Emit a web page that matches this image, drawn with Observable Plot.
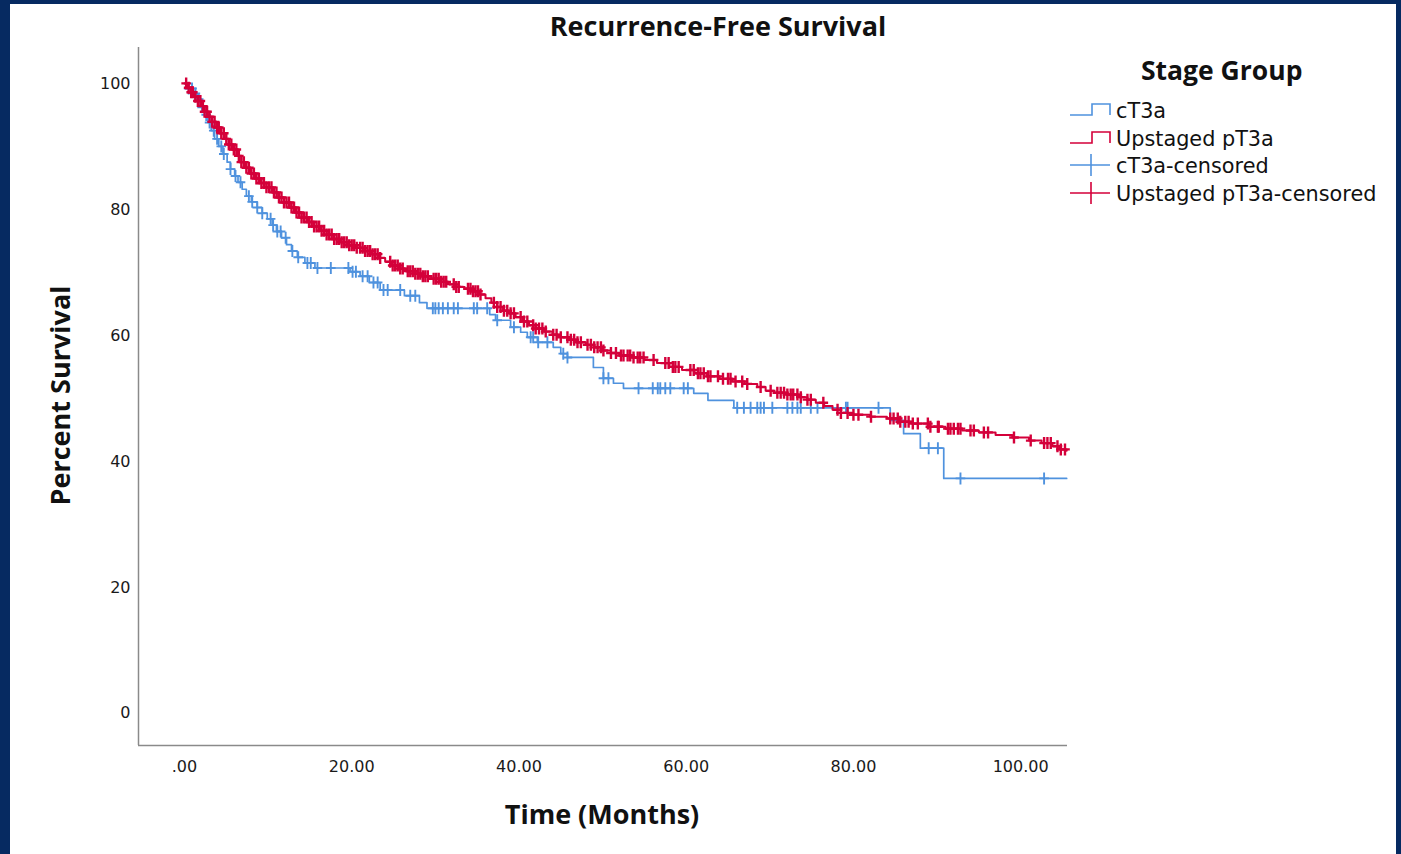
<!DOCTYPE html>
<html>
<head>
<meta charset="utf-8">
<script src="https://cdn.jsdelivr.net/npm/d3@7"></script>
<script src="https://cdn.jsdelivr.net/npm/@observablehq/plot@0.6"></script>
<style>
  html, body { margin:0; padding:0; width:1401px; height:854px; overflow:hidden; background:#062a61; }
  #panel { position:absolute; left:10px; top:4px; width:1386px; height:850px; background:#ffffff; }
  .t { position:absolute; font-family:"Open Sans", "DejaVu Sans", sans-serif; color:#111; white-space:nowrap; line-height:1; }
  #title { left:468px; width:500px; top:12px; text-align:center; font-weight:700; font-size:27px; }
  #xlabel { left:402px; width:400px; top:800px; text-align:center; font-weight:700; font-size:27px; }
  #ylabel { left:-141px; width:400px; top:382px; text-align:center; font-weight:700; font-size:27px; transform:rotate(-90deg); }
  #legtitle { left:1141px; top:57px; font-weight:700; font-size:26.5px; }
  .leg { left:1116px; font-size:20.8px; font-family:"DejaVu Sans", sans-serif; }
  #chart { position:absolute; left:0; top:0; }
</style>
</head>
<body>
<div id="panel"></div>
<div id="chart"></div>
<div class="t" id="title">Recurrence-Free Survival</div>
<div class="t" id="xlabel">Time (Months)</div>
<div class="t" id="ylabel">Percent Survival</div>
<div class="t" id="legtitle">Stage Group</div>
<div id="legend"></div>
<script>
// ---------------- data ----------------
const seriesNames = ["cT3a", "Upstaged pT3a"];
const legendLabels = ["cT3a", "Upstaged pT3a", "cT3a-censored", "Upstaged pT3a-censored"];
const xTicks = [0, 20, 40, 60, 80, 100];
const xTickLabels = [".00", "20.00", "40.00", "60.00", "80.00", "100.00"];
const yTicks = [0, 20, 40, 60, 80, 100];

// cT3a Kaplan-Meier steps: [time (months), percent surviving]
const cT3aCurve = [
  [0,100],[0.5,99.2],[1.0,98.4],[1.5,97.5],[2.0,96.2],[2.4,95],[2.8,93.8],[3.2,92.5],[3.6,91.2],[4.1,90],
  [4.6,88.8],[5.1,87.5],[5.5,86.4],[6.0,85.3],[6.4,84.3],[6.9,83.2],[7.4,82.1],[8.0,81.2],[8.7,80.3],[9.3,79.4],
  [9.9,78.5],[10.5,77.5],[11.0,76.5],[11.6,75.5],[12.2,74.4],[12.8,73.4],[13.5,72.4],[14.4,71.5],[15.6,70.7],
  [19.8,70.1],[21.0,69.4],[22.1,68.4],[23.4,67.2],[26.3,66.3],[28.1,65.2],[29.0,64.3],[36.5,63.3],[37.2,62.4],
  [39.0,61.3],[40.2,60.5],[41.0,59.7],[42.2,58.9],[44.1,58.1],[45.0,57.1],[45.8,56.5],[48.9,54.9],[50.1,53.2],
  [51.3,52.4],[52.5,51.6],[60.9,50.8],[62.6,49.7],[65.7,48.5],[84.4,46.5],[86.0,44.4],[88.0,42.1],[90.8,37.3],
  [105.5,37.3]
];
// Upstaged pT3a Kaplan-Meier steps
const pT3aCurve = [
  [0,100],[0.4,99.3],[0.8,98.6],[1.2,97.9],[1.6,97.2],[2.0,96.4],[2.4,95.5],[2.8,94.7],[3.3,93.9],[3.8,93],
  [4.3,92.1],[4.8,91.2],[5.3,90.3],[5.8,89.5],[6.3,88.5],[6.8,87.5],[7.3,86.6],[7.9,85.7],[8.5,84.9],[9.1,84.2],
  [9.8,83.5],[10.5,82.7],[11.2,81.9],[11.9,81.1],[12.6,80.3],[13.3,79.5],[14.0,78.7],[14.7,78.0],[15.4,77.3],
  [16.2,76.6],[17.0,76.0],[17.8,75.3],[18.6,74.8],[19.5,74.3],[20.5,73.9],[21.5,73.4],[22.4,72.9],[23.2,72.3],
  [24.0,71.7],[24.8,71.1],[25.6,70.6],[26.5,70.2],[27.5,69.8],[28.5,69.4],[29.5,69.0],[30.5,68.5],[31.5,68.1],
  [32.5,67.7],[33.5,67.4],[34.5,67.0],[35.3,66.5],[36.0,65.9],[36.7,65.2],[37.4,64.5],[38.1,63.9],[38.8,63.5],
  [39.6,62.9],[40.4,62.2],[41.2,61.6],[42.0,61.1],[43.0,60.6],[44.0,60.1],[45.0,59.7],[46.0,59.3],[47.0,58.9],
  [48.0,58.5],[49.0,58.1],[50.0,57.6],[51.0,57.2],[52.0,56.8],[53.5,56.5],[55.0,56.1],[56.5,55.6],[58.0,55.0],
  [59.5,54.5],[61.0,54.0],[62.5,53.5],[64.0,53.1],[65.5,52.7],[67.0,52.3],[68.5,51.8],[69.5,51.2],[70.5,50.9],
  [72.0,50.6],[73.5,50.2],[74.5,49.8],[75.5,49.3],[76.5,48.8],[77.5,48.2],[78.5,47.7],[80.0,47.4],[82.0,47.1],
  [84.0,46.8],[85.5,46.3],[87.0,46.0],[89.0,45.5],[91.0,45.2],[93.0,44.9],[95.0,44.6],[97.0,44.2],[99.0,43.8],
  [101.0,43.3],[102.5,42.9],[103.8,42.4],[104.6,41.9],[105.5,41.7]
];
// censoring times (months)
const cT3aCensored = [
  0.5,0.9,1.3,1.7,2.1,2.6,3.0,3.5,3.9,4.4,4.7,5.5,6.1,6.7,7.7,8.1,8.7,9.3,10.3,10.6,11.1,11.5,12.1,12.9,13.6,
  14.7,15.1,15.9,17.5,19.6,20.1,20.5,21.3,21.9,22.6,23.1,23.8,24.3,25.8,27.0,27.6,29.7,30.0,30.4,30.9,31.5,32.2,
  32.7,34.6,35.0,36.2,37.4,39.4,41.4,41.7,42.3,43.4,45.3,45.8,50.1,50.7,54.3,56.0,56.6,56.9,57.5,58.1,59.7,60.2,
  66.1,66.9,67.7,68.5,68.9,69.3,70.3,72.1,72.7,73.3,73.7,74.9,75.7,79.1,79.3,83.0,89.0,90.1,92.8,102.8
];
const pT3aCensored = [
  0.2,0.5,0.8,1.0,1.3,1.6,1.9,2.2,2.4,2.7,3.0,3.3,3.6,3.9,4.1,4.4,4.7,5.0,5.3,5.6,5.9,6.2,6.5,6.8,7.1,7.4,7.7,
  8.0,8.3,8.6,8.9,9.2,9.5,9.8,10.1,10.4,10.7,11.0,11.3,11.6,11.9,12.2,12.5,12.8,13.1,13.4,13.7,14.0,14.3,14.6,
  14.9,15.2,15.5,15.8,16.1,16.4,16.7,17.0,17.3,17.6,17.9,18.2,18.5,18.8,19.1,19.4,19.7,20.0,20.3,20.6,
  21.0,21.3,21.6,21.9,22.2,22.5,22.8,23.1,23.4,24.6,24.9,25.2,25.5,25.8,26.1,26.7,27.0,27.3,27.6,27.9,28.2,28.5,
  28.8,29.1,29.8,30.1,30.4,30.7,31.0,31.3,32.2,32.5,32.8,33.9,34.2,34.5,34.8,35.1,35.4,37.0,37.4,37.8,38.2,38.6,
  39.0,39.4,40.2,40.6,41.0,41.7,42.0,42.4,42.8,43.2,44.1,44.5,45.0,45.8,46.2,46.6,47.0,47.4,48.2,48.6,49.0,49.4,
  49.8,50.1,51.0,51.6,52.2,52.5,53.0,53.3,53.7,54.2,54.5,54.9,56.1,57.5,57.9,58.4,58.7,59.1,60.5,60.9,61.4,61.7,
  62.1,62.6,62.9,63.8,64.4,65.0,65.3,65.9,66.7,67.3,68.9,70.1,70.9,71.3,71.7,72.1,72.5,72.8,73.3,73.7,74.5,74.9,
  76.4,78.1,78.5,79.3,80.0,80.6,82.1,84.4,84.8,85.3,85.6,86.2,86.6,87.1,87.7,88.9,89.2,90.1,90.2,91.3,91.6,92.0,
  92.5,92.8,94.0,94.4,95.6,96.1,99.2,101.2,102.8,103.2,103.6,104.4,104.8,105.3
];

// ---------------- chart ----------------
const BLUE = "#4f92de";
const RED = "#d4003a";
const AXIS = "#8a8a8a";
const TICKFONT = '"DejaVu Sans", sans-serif';
const X_MIN = -5.5, X_MAX = 105.6, Y_MIN = -5.1, Y_MAX = 105.7;

const bis = d3.bisector(d => d[0]).right;
const atTime = (curve, t) => curve[Math.max(0, bis(curve, t) - 1)][1];
const censorRows = (curve, times) => times.map(t => ({t, s: atTime(curve, t)}));

const censorSymbol = {
  draw(ctx, size) {
    const r = Math.sqrt(size / Math.PI);
    ctx.moveTo(0, -r); ctx.lineTo(0, r);
    ctx.moveTo(-r * 0.8, 0); ctx.lineTo(r * 0.8, 0);
  }
};

const chart = Plot.plot({
  width: 1080, height: 854,
  marginLeft: 138, marginTop: 47, marginRight: 13, marginBottom: 109,
  x: {domain: [X_MIN, X_MAX]},
  y: {domain: [Y_MIN, Y_MAX]},
  style: {background: "transparent", fontFamily: TICKFONT, fontSize: "16px", color: "#1a1a1a", overflow: "visible"},
  marks: [
    Plot.axisX({ticks: xTicks, tickSize: 0, tickPadding: 15, label: null,
      tickFormat: d => xTickLabels[xTicks.indexOf(d)], fontSize: 16}),
    Plot.axisY({ticks: yTicks, tickSize: 0, tickPadding: 8, label: null, tickFormat: d => String(d), fontSize: 16}),
    Plot.ruleX([X_MIN], {stroke: AXIS, strokeWidth: 1.5}),
    Plot.ruleY([Y_MIN], {stroke: AXIS, strokeWidth: 1.5}),
    Plot.line(cT3aCurve, {x: d => d[0], y: d => d[1], curve: "step-after", stroke: BLUE, strokeWidth: 1.7}),
    Plot.dot(censorRows(cT3aCurve, cT3aCensored), {x: "t", y: "s", symbol: censorSymbol, r: 6, fill: "none", stroke: BLUE, strokeWidth: 1.9}),
    Plot.line(pT3aCurve, {x: d => d[0], y: d => d[1], curve: "step-after", stroke: RED, strokeWidth: 2}),
    Plot.dot(censorRows(pT3aCurve, pT3aCensored), {x: "t", y: "s", symbol: censorSymbol, r: 6, fill: "none", stroke: RED, strokeWidth: 2.4})
  ]
});
document.getElementById("chart").appendChild(chart);

// ---------------- legend ----------------
const legend = document.getElementById("legend");
const colors = [BLUE, RED, BLUE, RED];
const rowY = [110, 138, 165, 193];
const ns = "http://www.w3.org/2000/svg";
const svg = document.createElementNS(ns, "svg");
svg.setAttribute("width", 1401); svg.setAttribute("height", 854);
svg.style.position = "absolute"; svg.style.left = "0px"; svg.style.top = "0px";
legendLabels.forEach((lab, i) => {
  const y = rowY[i];
  const p = document.createElementNS(ns, "path");
  const d = i < 2
    ? `M1070,${y + 5}H1092V${y - 6}H1110V${y + 5}`
    : `M1070,${y}H1110M1091,${y - 11}V${y + 11}`;
  p.setAttribute("d", d);
  p.setAttribute("fill", "none");
  p.setAttribute("stroke", colors[i]);
  p.setAttribute("stroke-width", 1.6);
  svg.appendChild(p);
  const div = document.createElement("div");
  div.className = "t leg";
  div.style.top = (y - 9) + "px";
  div.textContent = lab;
  legend.appendChild(div);
});
legend.appendChild(svg);
</script>
</body>
</html>
